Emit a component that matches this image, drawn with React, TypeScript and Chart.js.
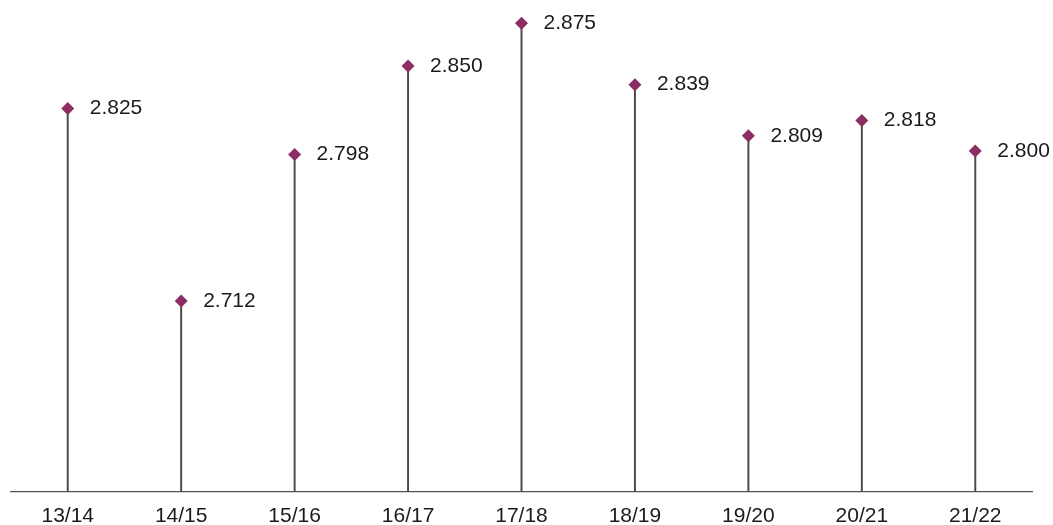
import React, { useEffect, useRef } from "react";
import { Chart, registerables } from "chart.js";

Chart.register(...registerables);

const categories = ["13/14", "14/15", "15/16", "16/17", "17/18", "18/19", "19/20", "20/21", "21/22"];
const values = [2.825, 2.712, 2.798, 2.85, 2.875, 2.839, 2.809, 2.818, 2.8];
const yMin = 2.6;
const yMax = 2.8887;

const FONT = "'Liberation Sans', Arial, sans-serif";

const valueLabelPlugin = {
  id: "valueLabels",
  afterDatasetsDraw(chart: any) {
    const meta = chart.getDatasetMeta(1);
    const ctx = chart.ctx;
    ctx.save();
    ctx.font = `21px ${FONT}`;
    ctx.fillStyle = "#1a1a1a";
    ctx.textAlign = "left";
    ctx.textBaseline = "middle";
    meta.data.forEach((pt: any, i: number) => {
      const v = chart.data.datasets[1].data[i] as number;
      ctx.fillText(v.toFixed(3), pt.x + 22, pt.y);
    });
    ctx.restore();
  },
};

export default function App() {
  const ref = useRef<HTMLCanvasElement>(null);
  useEffect(() => {
    if (!ref.current) return;
    const chart = new Chart(ref.current, {
      type: "bar",
      data: {
        labels: categories,
        datasets: [
          {
            type: "bar",
            data: values,
            backgroundColor: "#4a4a4a",
            barThickness: 1.3,
            order: 2,
          },
          {
            type: "line",
            data: values,
            showLine: false,
            pointStyle: "rectRot",
            pointRadius: 6.5,
            pointBorderWidth: 0,
            pointBackgroundColor: "#8C2D63",
            pointBorderColor: "#8C2D63",
            clip: false,
            order: 1,
          },
        ],
      } as any,
      options: {
        animation: false,
        responsive: true,
        maintainAspectRatio: false,
        layout: { autoPadding: false, padding: { left: 11, right: 21, top: 0, bottom: -16.5 } },
        plugins: { legend: { display: false }, tooltip: { enabled: false } },
        scales: {
          x: {
            grid: { display: false, drawTicks: false },
            border: { display: true, color: "#555555", width: 1.3 },
            ticks: {
              color: "#1a1a1a",
              font: { family: FONT, size: 21, lineHeight: 0.9 },
              padding: 15.5,
              maxRotation: 0,
              autoSkip: false,
            },
          },
          y: {
            display: false,
            min: yMin,
            max: yMax,
          },
        },
      } as any,
      plugins: [valueLabelPlugin],
    });
    return () => chart.destroy();
  }, []);
  return (
    <div style={{ position: "absolute", left: 0, top: 0, width: 1053, height: 525, background: "#fff" }}>
      <canvas ref={ref} />
    </div>
  );
}
